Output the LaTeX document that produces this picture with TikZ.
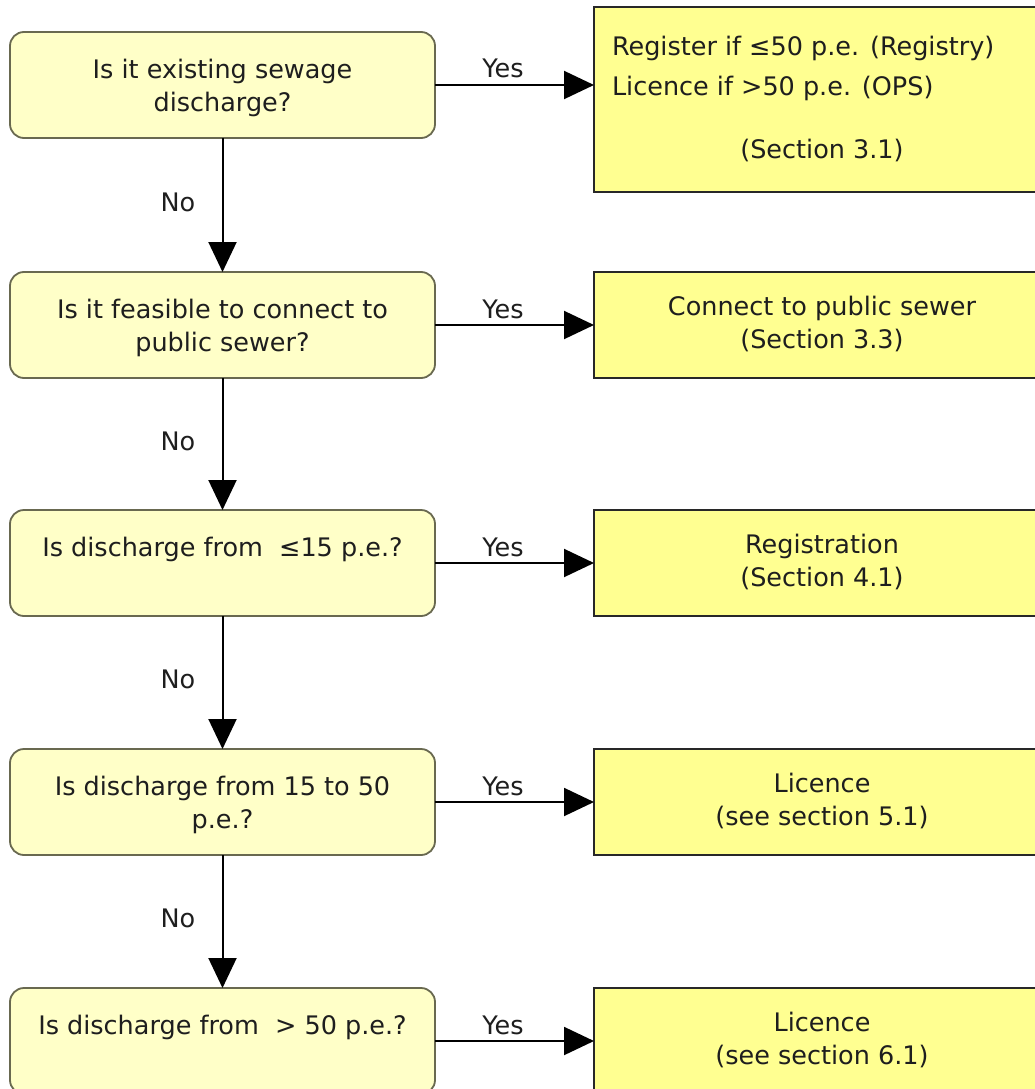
\documentclass[tikz,border=0pt]{standalone}
\usepackage{fontspec}
\setmainfont{DejaVu Sans}
\usetikzlibrary{arrows.meta}
\definecolor{qfill}{RGB}{255,255,200}
\definecolor{qdraw}{RGB}{105,105,80}
\definecolor{afill}{RGB}{255,255,145}
\definecolor{adraw}{RGB}{40,40,40}
\definecolor{txt}{RGB}{30,30,30}
\newcommand{\qtxt}[1]{\parbox[c][106pt][t]{425pt}{\centering\vspace*{23pt}\strut #1\par}}
\newcommand{\atxt}[1]{\parbox[c][106pt][t]{456pt}{\centering\vspace*{20pt}\strut #1\par}}
\begin{document}
\begin{tikzpicture}[x=1pt,y=-1pt,
  every node/.style={text=txt, font=\fontsize{25.5}{33}\selectfont},
  qbox/.style={draw=qdraw, fill=qfill, line width=1.8pt, rounded corners=14pt, inner sep=0pt, outer sep=0pt},
  abox/.style={draw=adraw, fill=afill, line width=1.8pt, inner sep=0pt, outer sep=0pt},
  flow/.style={line width=2pt, draw=black, -{Triangle[length=30pt,width=28pt]}},
  lab/.style={anchor=base, inner sep=0pt}]
\clip (0,0) rectangle (1035,1089);
\fill[white] (0,0) rectangle (1035,1089);

% question boxes
\node[qbox] (q1) at (222.5,85)   {\qtxt{Is it existing sewage\\discharge?}};
\node[qbox] (q2) at (222.5,325)  {\qtxt{Is it feasible to connect to\\public sewer?}};
\node[qbox] (q3) at (222.5,563)  {\qtxt{Is discharge from\ \ ≤15 p.e.?}};
\node[qbox] (q4) at (222.5,802)  {\qtxt{Is discharge from 15 to 50\\p.e.?}};
\node[qbox] (q5) at (222.5,1041) {\qtxt{Is discharge from\ \ > 50 p.e.?}};

% answer boxes
\node[abox] (a1) at (822,99.5) {\parbox[c][185pt][t]{456pt}{\vspace*{25pt}\leftskip=18pt\strut Register if ≤50 p.e. (Registry)\par\vspace{7pt}\strut Licence if >50 p.e. (OPS)\par\vspace{30pt}\leftskip=0pt\centering\strut (Section 3.1)\par}};
\node[abox] (a2) at (822,325)  {\atxt{Connect to public sewer\\(Section 3.3)}};
\node[abox] (a3) at (822,563)  {\atxt{Registration\\(Section 4.1)}};
\node[abox] (a4) at (822,802)  {\atxt{Licence\\(see section 5.1)}};
\node[abox] (a5) at (822,1041) {\atxt{Licence\\(see section 6.1)}};

% yes connectors
\draw[flow] (q1.east) -- (q1.east -| a1.west);
\draw[flow] (q2) -- (a2);
\draw[flow] (q3) -- (a3);
\draw[flow] (q4) -- (a4);
\draw[flow] (q5) -- (a5);

% no connectors
\draw[flow] (q1) -- (q2);
\draw[flow] (q2) -- (q3);
\draw[flow] (q3) -- (q4);
\draw[flow] (q4) -- (q5);

% labels
\node[lab] (y1) at (503,78)   {Yes};
\node[lab] (y2) at (503,318)  {Yes};
\node[lab] (y3) at (503,556)  {Yes};
\node[lab] (y4) at (503,795)  {Yes};
\node[lab] (y5) at (503,1034) {Yes};
\node[lab] (n1) at (178,211)  {No};
\node[lab] (n2) at (178,450)  {No};
\node[lab] (n3) at (178,688)  {No};
\node[lab] (n4) at (178,927)  {No};
\end{tikzpicture}
\end{document}
